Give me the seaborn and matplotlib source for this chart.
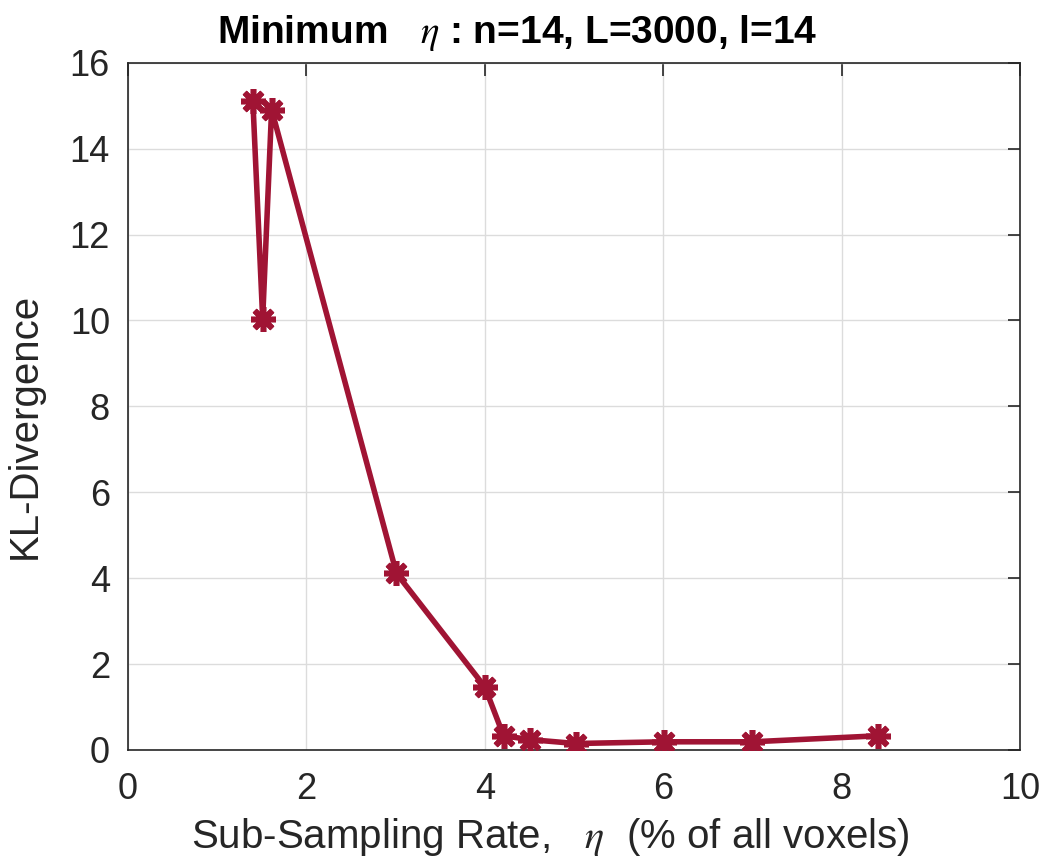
import matplotlib
matplotlib.use('Agg')
import matplotlib.pyplot as plt
import seaborn as sns
import pandas as pd

# 데이터
rate = [1.40, 1.51, 1.61, 3.01, 4.00, 4.21, 4.51, 5.02, 6.01, 7.00, 8.41]
kl = [15.11, 10.04, 14.91, 4.11, 1.47, 0.33, 0.24, 0.15, 0.19, 0.19, 0.33]
x_ticks = [0, 2, 4, 6, 8, 10]
y_ticks = [0, 2, 4, 6, 8, 10, 12, 14, 16]

df = pd.DataFrame({'rate': rate, 'kl': kl})

sns.set_style('whitegrid')
plt.rcParams['font.family'] = ['Liberation Sans', 'DejaVu Sans']
plt.rcParams['mathtext.fontset'] = 'stix'

fig = plt.figure(figsize=(10.42, 8.65), dpi=100)
ax = fig.add_axes([0.1228, 0.133, 0.979 - 0.1228, 0.9275 - 0.133])

color = '#A01434'
sns.lineplot(data=df, x='rate', y='kl', ax=ax, sort=False, color=color,
             linewidth=4, marker=(8, 2, 0), markersize=18,
             markeredgewidth=4, markeredgecolor=color, zorder=3)

ax.set_xlim(0, 10)
ax.set_ylim(0, 16)
ax.set_xticks(x_ticks)
ax.set_yticks(y_ticks)
ax.grid(True, color='#dcdcdc', linewidth=1)

for s in ax.spines.values():
    s.set_visible(True)
    s.set_color('#262626')
    s.set_linewidth(1.2)
ax.tick_params(direction='in', length=9, width=1.2, colors='#262626',
               labelsize=26, top=True, right=True, pad=13)
ax.tick_params(axis='x', pad=16)

ax.set_xlabel(r'Sub-Sampling Rate,   $\eta$  (% of all voxels)', fontsize=29, color='#262626')
ax.set_ylabel('KL-Divergence', fontsize=29, color='#262626')
ax.xaxis.set_label_coords(0.473, -0.096)
ax.yaxis.set_label_coords(-0.094, 0.472)
ax.set_title(r'Minimum   $\eta$ : n=14, L=3000, l=14', fontsize=28, fontweight='bold',
             color='black', pad=14, x=0.436)

fig.savefig('out.png', dpi=100)
